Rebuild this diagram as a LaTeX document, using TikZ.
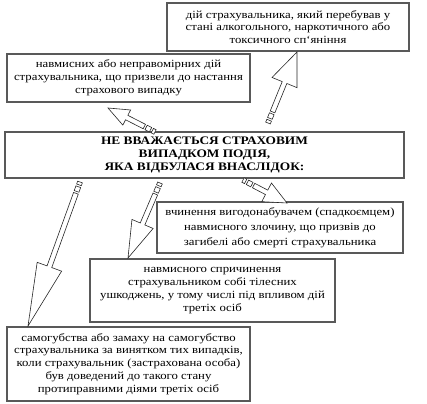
\documentclass[tikz,border=0pt]{standalone}
\usepackage{fontspec}
\setmainfont{Liberation Serif}[FakeStretch=1.16]
\usetikzlibrary{calc}
\tikzset{
  box/.style={draw=black!65, line width=1.1pt, fill=white, align=center, inner sep=1pt,
    font=\fontsize{11}{12.8}\selectfont},
  arrowline/.style={draw=black!85, line width=0.6pt, fill=white, line join=miter},
}
\newcommand\stripearrow[4]{%
  \draw[arrowline] let \p1=(#1), \p2=(#2),
      \n1={atan2(\y2-\y1,\x2-\x1)}, \n2={veclen(\x2-\x1,\y2-\y1)}, \n3={\n2-#3}
    in {[shift={(\p1)}, rotate=\n1]
      (0,-2.5) rectangle (3,2.5)
      (5,-2.5) rectangle (10,2.5)
      (12,-2.5) -- (\n3,-2.5) -- (\n3,-#4) -- (\n2,0) -- (\n3,#4) -- (\n3,2.5) -- (12,2.5) -- cycle};%
}
\begin{document}
\begin{tikzpicture}[x=1pt,y=-1pt]
\useasboundingbox (0,0) rectangle (427,403);
\node[box, minimum width=242pt, minimum height=48pt] (alco) at (288,27)
  {дій страхувальника, який перебував у\\ стані алкогольного, наркотичного або\\ токсичного сп`яніння};
\node[box, minimum width=243pt, minimum height=48pt] (unlawful) at (128.5,78)
  {навмисних або неправомірних дій\\ страхувальника, що призвели до настання\\ страхового випадку};
\node[box, minimum width=399pt, minimum height=46pt, font=\fontsize{11.5}{12.8}\selectfont\bfseries] (main) at (204.5,155)
  {НЕ ВВАЖАЄТЬСЯ СТРАХОВИМ\\ ВИПАДКОМ ПОДІЯ,\\ ЯКА ВІДБУЛАСЯ ВНАСЛІДОК:};
\node[box, minimum width=246pt, minimum height=51pt, font=\fontsize{11}{15}\selectfont] (crime) at (280,227.5)
  {вчинення вигодонабувачем (спадкоємцем)\\ навмисного злочину, що призвів до\\ загибелі або смерті страхувальника};
\node[box, minimum width=245pt, minimum height=63pt] (injury) at (212.5,290.5)
  {навмисного спричинення\\ страхувальником собі тілесних\\ ушкоджень, у тому числі під впливом дій\\ третіх осіб};
\node[box, minimum width=243pt, minimum height=74pt] (suicide) at (128.5,364)
  {самогубства або замаху на самогубство\\ страхувальника за винятком тих випадків,\\ коли страхувальник (застрахована особа)\\ був доведений до такого стану\\ протиправними діями третіх осіб};
\coordinate (t1) at (155,132); \coordinate (h1) at (108,108);
\coordinate (t2) at (268,123); \coordinate (h2) at (297,52);
\coordinate (t3) at (243,180); \coordinate (h3) at (287,203);
\coordinate (t4) at (160,183); \coordinate (h4) at (128,258);
\coordinate (t5) at (80,182);  \coordinate (h5) at (28,326);
\stripearrow{t1}{h1}{21}{8.5}
\stripearrow{t2}{h2}{33}{13.5}
\stripearrow{t3}{h3}{23}{10.5}
\stripearrow{t4}{h4}{37}{11.5}
\stripearrow{t5}{h5}{63}{13}
\end{tikzpicture}
\end{document}
